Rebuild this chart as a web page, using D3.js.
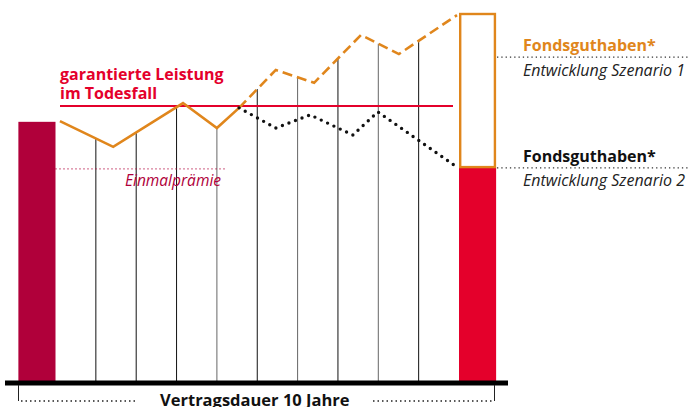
<!DOCTYPE html>
<html>
<head>
<meta charset="utf-8">
<script src="https://cdn.jsdelivr.net/npm/d3@7"></script>
<style>
  body { margin: 0; background: #fff; }
  svg { display: block; font-family: "Open Sans", Lato, sans-serif; }
</style>
</head>
<body>
<div id="chart"></div>
<script>
// Werte in relativen Einheiten (100 = Endwert Szenario 1)
const einmalpraemie = 70.7;       // Balken links
const garantiert = 75;            // garantierte Leistung im Todesfall
const einmalLinie = 57.9;         // gepunktete Linie "Einmalprämie"
const endwert1 = 100;             // Fondsguthaben Szenario 1
const endwert2 = 58.4;            // Fondsguthaben Szenario 2

const verlauf = [
  { t: 0.11, v: 70.9 }, { t: 1.43, v: 63.9 }, { t: 3.16, v: 75.8 },
  { t: 4.0, v: 69.0 }, { t: 4.55, v: 74.5 }
];
const szenario1 = [
  { t: 4.55, v: 74.5 }, { t: 5.46, v: 84.8 }, { t: 6.41, v: 81.3 },
  { t: 7.57, v: 94.3 }, { t: 8.51, v: 89.1 }, { t: 9.95, v: 99.7 }
];
const szenario2 = [
  { t: 4.55, v: 74.5 }, { t: 5.46, v: 69.0 }, { t: 6.31, v: 72.6 },
  { t: 7.37, v: 67.1 }, { t: 7.99, v: 73.4 }, { t: 9.95, v: 58.4 }
];
const jahre = [1, 2, 3, 4, 5, 6, 7, 8, 9];

const width = 689;
const height = 407;
const orange = '#e0861c';
const rot = '#e4002b';
const weinrot = '#b0003a';

const svg = d3.select('#chart')
  .append('svg')
  .attr('width', width)
  .attr('height', height)
  .attr('viewBox', [0, 0, width, height]);

const x = d3.scaleLinear().domain([0, 10]).range([55.5, 459]);
const y = d3.scaleLinear().domain([0, 100]).range([382, 14]);
const barW = x(0.92) - x(0);

// Gitterlinien bis zur oberen Kurve
const oben = verlauf.concat(szenario1.slice(1));
function obenBei(t) {
  const i = d3.bisector(d => d.t).right(oben, t);
  const a = oben[i - 1], b = oben[i];
  return a.v + (b.v - a.v) * (t - a.t) / (b.t - a.t);
}
svg.append('g')
  .selectAll('line')
  .data(jahre)
  .join('line')
    .attr('x1', d => x(d)).attr('x2', d => x(d))
    .attr('y1', y(0)).attr('y2', d => y(obenBei(d)))
    .attr('stroke', (d, i) => i >= 3 && i % 2 === 1 ? '#666' : '#111')
    .attr('stroke-width', 1);

// Balken links (Einmalprämie)
svg.append('rect')
  .attr('x', x(0) - barW).attr('y', y(einmalpraemie))
  .attr('width', barW).attr('height', y(0) - y(einmalpraemie))
  .attr('fill', weinrot);

// Balken rechts
svg.append('rect')
  .attr('x', x(10)).attr('y', y(endwert2))
  .attr('width', barW).attr('height', y(0) - y(endwert2))
  .attr('fill', rot);
svg.append('rect')
  .attr('x', x(10) + 1.2).attr('y', y(endwert1))
  .attr('width', barW - 2.4).attr('height', y(endwert2) - y(endwert1))
  .attr('fill', 'none')
  .attr('stroke', orange)
  .attr('stroke-width', 2.4);

// garantierte Leistung
svg.append('line')
  .attr('x1', 60).attr('x2', 453)
  .attr('y1', y(garantiert)).attr('y2', y(garantiert))
  .attr('stroke', rot).attr('stroke-width', 2);

// Einmalprämie Linie
svg.append('line')
  .attr('x1', x(0)).attr('x2', 225)
  .attr('y1', y(einmalLinie)).attr('y2', y(einmalLinie))
  .attr('stroke', weinrot).attr('stroke-width', 1.3)
  .attr('stroke-dasharray', '1 3');

const line = d3.line().x(d => x(d.t)).y(d => y(d.v));

svg.append('path')
  .datum(verlauf)
  .attr('d', line)
  .attr('fill', 'none')
  .attr('stroke', orange)
  .attr('stroke-width', 2.6)
  .attr('stroke-linejoin', 'miter');

svg.append('path')
  .datum(szenario1)
  .attr('d', line)
  .attr('fill', 'none')
  .attr('stroke', orange)
  .attr('stroke-width', 2.6)
  .attr('stroke-dasharray', '10 5');

svg.append('path')
  .datum(szenario2)
  .attr('d', line)
  .attr('fill', 'none')
  .attr('stroke', '#111')
  .attr('stroke-width', 3.4)
  .attr('stroke-linecap', 'round')
  .attr('stroke-dasharray', '0 7');

// Grundlinie
svg.append('line')
  .attr('x1', 5).attr('x2', 508)
  .attr('y1', 383).attr('y2', 383)
  .attr('stroke', '#000').attr('stroke-width', 5);

// Vertragsdauer Klammer
const klammer = svg.append('g').attr('stroke', '#222').attr('fill', 'none');
klammer.append('line').attr('x1', 18.5).attr('x2', 18.5).attr('y1', 385).attr('y2', 401).attr('stroke-width', 1);
klammer.append('line').attr('x1', 494.5).attr('x2', 494.5).attr('y1', 385).attr('y2', 401).attr('stroke-width', 1);
klammer.append('line').attr('x1', 21).attr('x2', 138).attr('y1', 401).attr('y2', 401)
  .attr('stroke-width', 1.5).attr('stroke-dasharray', '1.5 3');
klammer.append('line').attr('x1', 373).attr('x2', 492).attr('y1', 401).attr('y2', 401)
  .attr('stroke-width', 1.5).attr('stroke-dasharray', '1.5 3');

svg.append('text')
  .attr('x', 160).attr('y', 406)
  .attr('font-size', 16.5).attr('font-weight', 'bold').attr('fill', '#111')
  .text('Vertragsdauer 10 Jahre');

// Beschriftungen
svg.append('text')
  .attr('x', 60).attr('y', 80)
  .attr('font-size', 16).attr('font-weight', 'bold').attr('fill', rot)
  .text('garantierte Leistung');
svg.append('text')
  .attr('x', 60).attr('y', 99)
  .attr('font-size', 16).attr('font-weight', 'bold').attr('fill', rot)
  .text('im Todesfall');

svg.append('text')
  .attr('x', 125).attr('y', 186)
  .attr('font-size', 15.5).attr('font-style', 'italic').attr('fill', weinrot)
  .text('Einmalprämie');

const rechts = [
  { titel: 'Fondsguthaben*', farbe: orange, text: 'Entwicklung Szenario 1', v: 88.3 },
  { titel: 'Fondsguthaben*', farbe: '#111', text: 'Entwicklung Szenario 2', v: 58.2 }
];
const lg = svg.append('g').selectAll('g').data(rechts).join('g');
lg.append('line')
  .attr('x1', 497).attr('x2', 689)
  .attr('y1', d => y(d.v)).attr('y2', d => y(d.v))
  .attr('stroke', '#333').attr('stroke-width', 1.3)
  .attr('stroke-dasharray', '1.3 3');
lg.append('text')
  .attr('x', 523).attr('y', d => y(d.v) - 6)
  .attr('font-size', 16).attr('font-weight', 'bold').attr('fill', d => d.farbe)
  .text(d => d.titel);
lg.append('text')
  .attr('x', 523).attr('y', d => y(d.v) + 18.5)
  .attr('font-size', 16).attr('font-style', 'italic').attr('fill', '#222')
  .text(d => d.text);
</script>
</body>
</html>
